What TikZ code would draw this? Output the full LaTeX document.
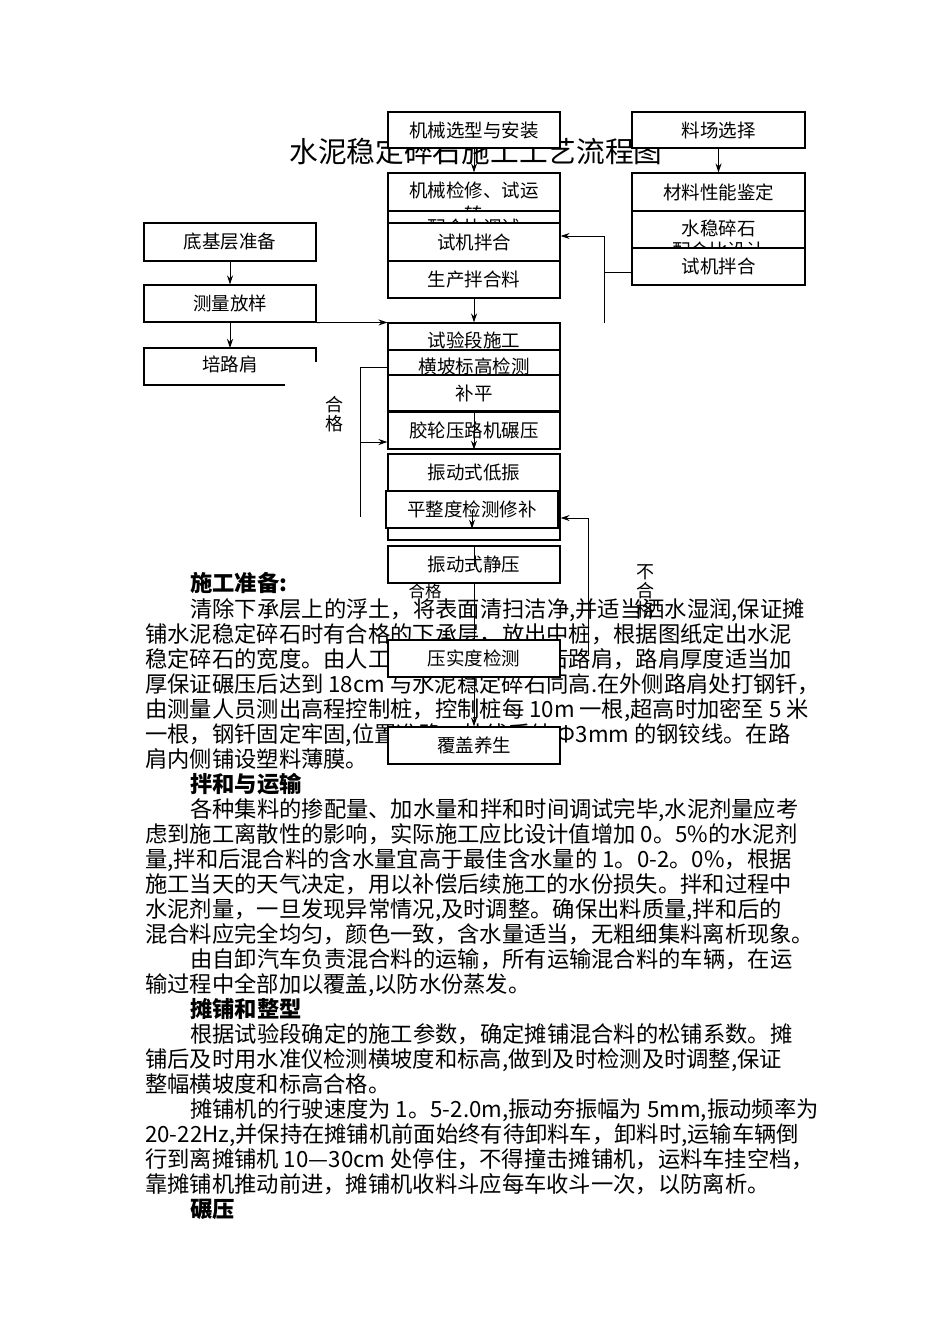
\documentclass[tikz,border=0pt]{standalone}
\usepackage{fontspec}
\setmainfont{Noto Sans CJK SC}
\usetikzlibrary{arrows.meta,positioning}

\begin{document}
\begin{tikzpicture}[
    x=1pt, y=-1pt,
    mybox/.style={draw, fill=white, line width=1.1pt, minimum width=172pt, minimum height=37pt, inner sep=0pt, font=\fontsize{18.5}{22}\selectfont},
    boxtext/.style={inner sep=0pt, font=\fontsize{18.5}{22}\selectfont},
    bodytext/.style={anchor=base west, inner sep=0pt, font=\fontsize{22.3}{25}\selectfont},
    headtext/.style={anchor=base west, inner sep=0pt, font=\fontsize{22.3}{25}\selectfont\bfseries},
    myedge/.style={line width=0.9pt},
    myarrow/.style={line width=0.9pt, -{Stealth[length=9pt, width=6pt, inset=3pt]}}
]
\useasboundingbox (0,0) rectangle (950,1344);
\fill[white] (0,0) rectangle (950,1344);

% title and text of the page
\node[inner sep=0pt, font=\fontsize{28.7}{30}\selectfont] (title) at (476,152) {水泥稳定碎石施工工艺流程图};

\node[headtext] (h1) at (190,591) {施工准备:};
\node[headtext] (h2) at (190,792) {拌和与运输};
\node[headtext] (h3) at (190,1017) {摊铺和整型};
\node[headtext] (h4) at (190,1217) {碾压};

\foreach \xx/\yy/\linetext in {
    190/617/{清除下承层上的浮土，将表面清扫洁净,并适当洒水湿润,保证摊},
    145/642/{铺水泥稳定碎石时有合格的下承层，放出中桩，根据图纸定出水泥},
    145/667/{稳定碎石的宽度。由人工培筑水泥稳定碎石路肩，路肩厚度适当加},
    145/692/{厚保证碾压后达到 18cm 与水泥稳定碎石同高.在外侧路肩处打钢钎，},
    145/717/{由测量人员测出高程控制桩，控制桩每 10m 一根,超高时加密至 5 米},
    145/742/{一根，钢钎固定牢固,位置准确，挂线采纳 Φ3mm 的钢铰线。在路},
    145/767/{肩内侧铺设塑料薄膜。},
    190/817/{各种集料的掺配量、加水量和拌和时间调试完毕,水泥剂量应考},
    145/842/{虑到施工离散性的影响，实际施工应比设计值增加 0。5\%的水泥剂},
    145/867/{量,拌和后混合料的含水量宜高于最佳含水量的 1。0-2。0\%，根据},
    145/892/{施工当天的天气决定，用以补偿后续施工的水份损失。拌和过程中},
    145/917/{水泥剂量，一旦发现异常情况,及时调整。确保出料质量,拌和后的},
    145/942/{混合料应完全均匀，颜色一致，含水量适当，无粗细集料离析现象。},
    190/967/{由自卸汽车负责混合料的运输，所有运输混合料的车辆，在运},
    145/992/{输过程中全部加以覆盖,以防水份蒸发。},
    190/1042/{根据试验段确定的施工参数，确定摊铺混合料的松铺系数。摊},
    145/1067/{铺后及时用水准仪检测横坡度和标高,做到及时检测及时调整,保证},
    145/1092/{整幅横坡度和标高合格。},
    190/1117/{摊铺机的行驶速度为 1。5-2.0m,振动夯振幅为 5mm,振动频率为},
    145/1142/{20-22Hz,并保持在摊铺机前面始终有待卸料车，卸料时,运输车辆倒},
    145/1167/{行到离摊铺机 10—30cm 处停住，不得撞击摊铺机，运料车挂空档，},
    145/1192/{靠摊铺机推动前进，摊铺机收料斗应每车收斗一次，以防离析。}}
    \node[bodytext] (b\yy) at (\xx,\yy) {\linetext};

% middle column
\node[mybox, minimum height=36pt] (jxxx) at (474,130) {机械选型与安装};
\node[mybox, minimum height=38pt] (jxjx) at (474,192) {};
\node[boxtext, align=center, font=\fontsize{18.5}{24}\selectfont] (jxjxt) at (474,202) {机械检修、试运\\转};
\node[mybox] (phbts) at (474,229.5) {};
\node[boxtext] (phbtst) at (474,227) {配合比调试};
\node[mybox, minimum height=38pt] (sjbh1) at (474,242) {试机拌合};
\node[mybox] (scbhl) at (474,279.5) {生产拌合料};
\node[mybox, minimum height=27pt] (sydsg) at (474,336.5) {};
\node[boxtext] (sydsgt) at (474,340) {试验段施工};
\node[mybox, minimum height=25pt] (hpbg) at (474,362.5) {};
\node[boxtext] (hpbgt) at (474,366) {横坡标高检测};
\node[mybox, minimum height=36pt] (bp) at (474,393) {补平};
\node[mybox] (jlyl) at (474,430.5) {胶轮压路机碾压};
\node[mybox] (zdddz) at (474,472.5) {振动式低振};
\node[mybox, minimum height=49pt] (pzdback) at (474,515.5) {};
\node[mybox] (pzd) at (472,509.5) {平整度检测修补};
\node[mybox] (zdjy) at (474,564.5) {振动式静压};
\node[mybox] (ysd) at (474,658.5) {压实度检测};
\node[mybox] (fgys) at (474,745.5) {覆盖养生};

% right column
\node[mybox, minimum width=173pt, minimum height=36pt] (lcxz) at (718.5,130) {料场选择};
\node[mybox, minimum width=173pt, minimum height=38pt] (clxn) at (718.5,192) {材料性能鉴定};
\node[mybox, minimum width=173pt] (swsj) at (718.5,229.5) {};
\node[boxtext, align=center] (swsjt) at (718.5,239) {水稳碎石\\配合比设计};
\node[mybox, minimum width=173pt] (sjbh2) at (718.5,266.5) {试机拌合};

% left column
\node[mybox, minimum height=38pt] (djc) at (230,242) {底基层准备};
\node[mybox] (clfy) at (230,303.5) {测量放样};
\draw[line width=1.1pt] (285,385) -- (144,385) -- (144,348) -- (316,348) -- (316,362);
\node[boxtext] (plj) at (230,364) {培路肩};
\coordinate (pljtop) at (230,348);

% connectors
\draw[myarrow] (jxxx) -- (jxjx);
\draw[myarrow] (lcxz) -- (clxn);
\draw[myarrow] (scbhl) -- (sydsg);
\draw[myarrow] (djc) -- (clfy);
\draw[myarrow] (clfy.south) -- (pljtop);
\draw[myarrow] (clfy.south east) -- (sydsg.north west);

\coordinate (fk1) at (604,236);
\coordinate (fk2) at (604,323);
\coordinate (fk3) at (604,272);
\draw[myedge] (sjbh2.west |- fk3) -- (fk3);
\draw[myedge] (fk2) -- (fk1);
\draw[myarrow] (fk1) -- (sjbh1.east |- fk1);

\coordinate (hg1) at (360,367);
\coordinate (hg2) at (360,517);
\coordinate (hg3) at (360,442);
\draw[myedge] (hpbg.west |- hg1) -- (hg1) -- (hg2);
\draw[myarrow] (hg3) -- (jlyl.west |- hg3);

\coordinate (bh1) at (588,655);
\coordinate (bh2) at (588,518);
\draw[myedge] (ysd.east |- bh1) -- (bh1) -- (bh2);
\draw[myarrow] (bh2) -- (pzdback.east |- bh2);

\draw[myarrow] (bp.south) -- (jlyl.south);
\draw[myarrow] (pzd.center) -- (pzd.south);
\draw[myedge] (zdjy.north) -- ++(0,22);
\draw[myedge] (zdjy.south) -- (ysd.north);
\draw[myarrow] (ysd.south) -- (fgys.north);

% labels
\node[inner sep=0pt, align=center, font=\fontsize{18}{19}\selectfont] (hgv) at (334,414) {合\\格};
\node[inner sep=0pt, align=center, font=\fontsize{18}{19}\selectfont] (bhg) at (645,591) {不\\合\\格};
\node[inner sep=0pt, font=\fontsize{16.5}{18}\selectfont] (hgh) at (425,591) {合格};
\end{tikzpicture}
\end{document}
